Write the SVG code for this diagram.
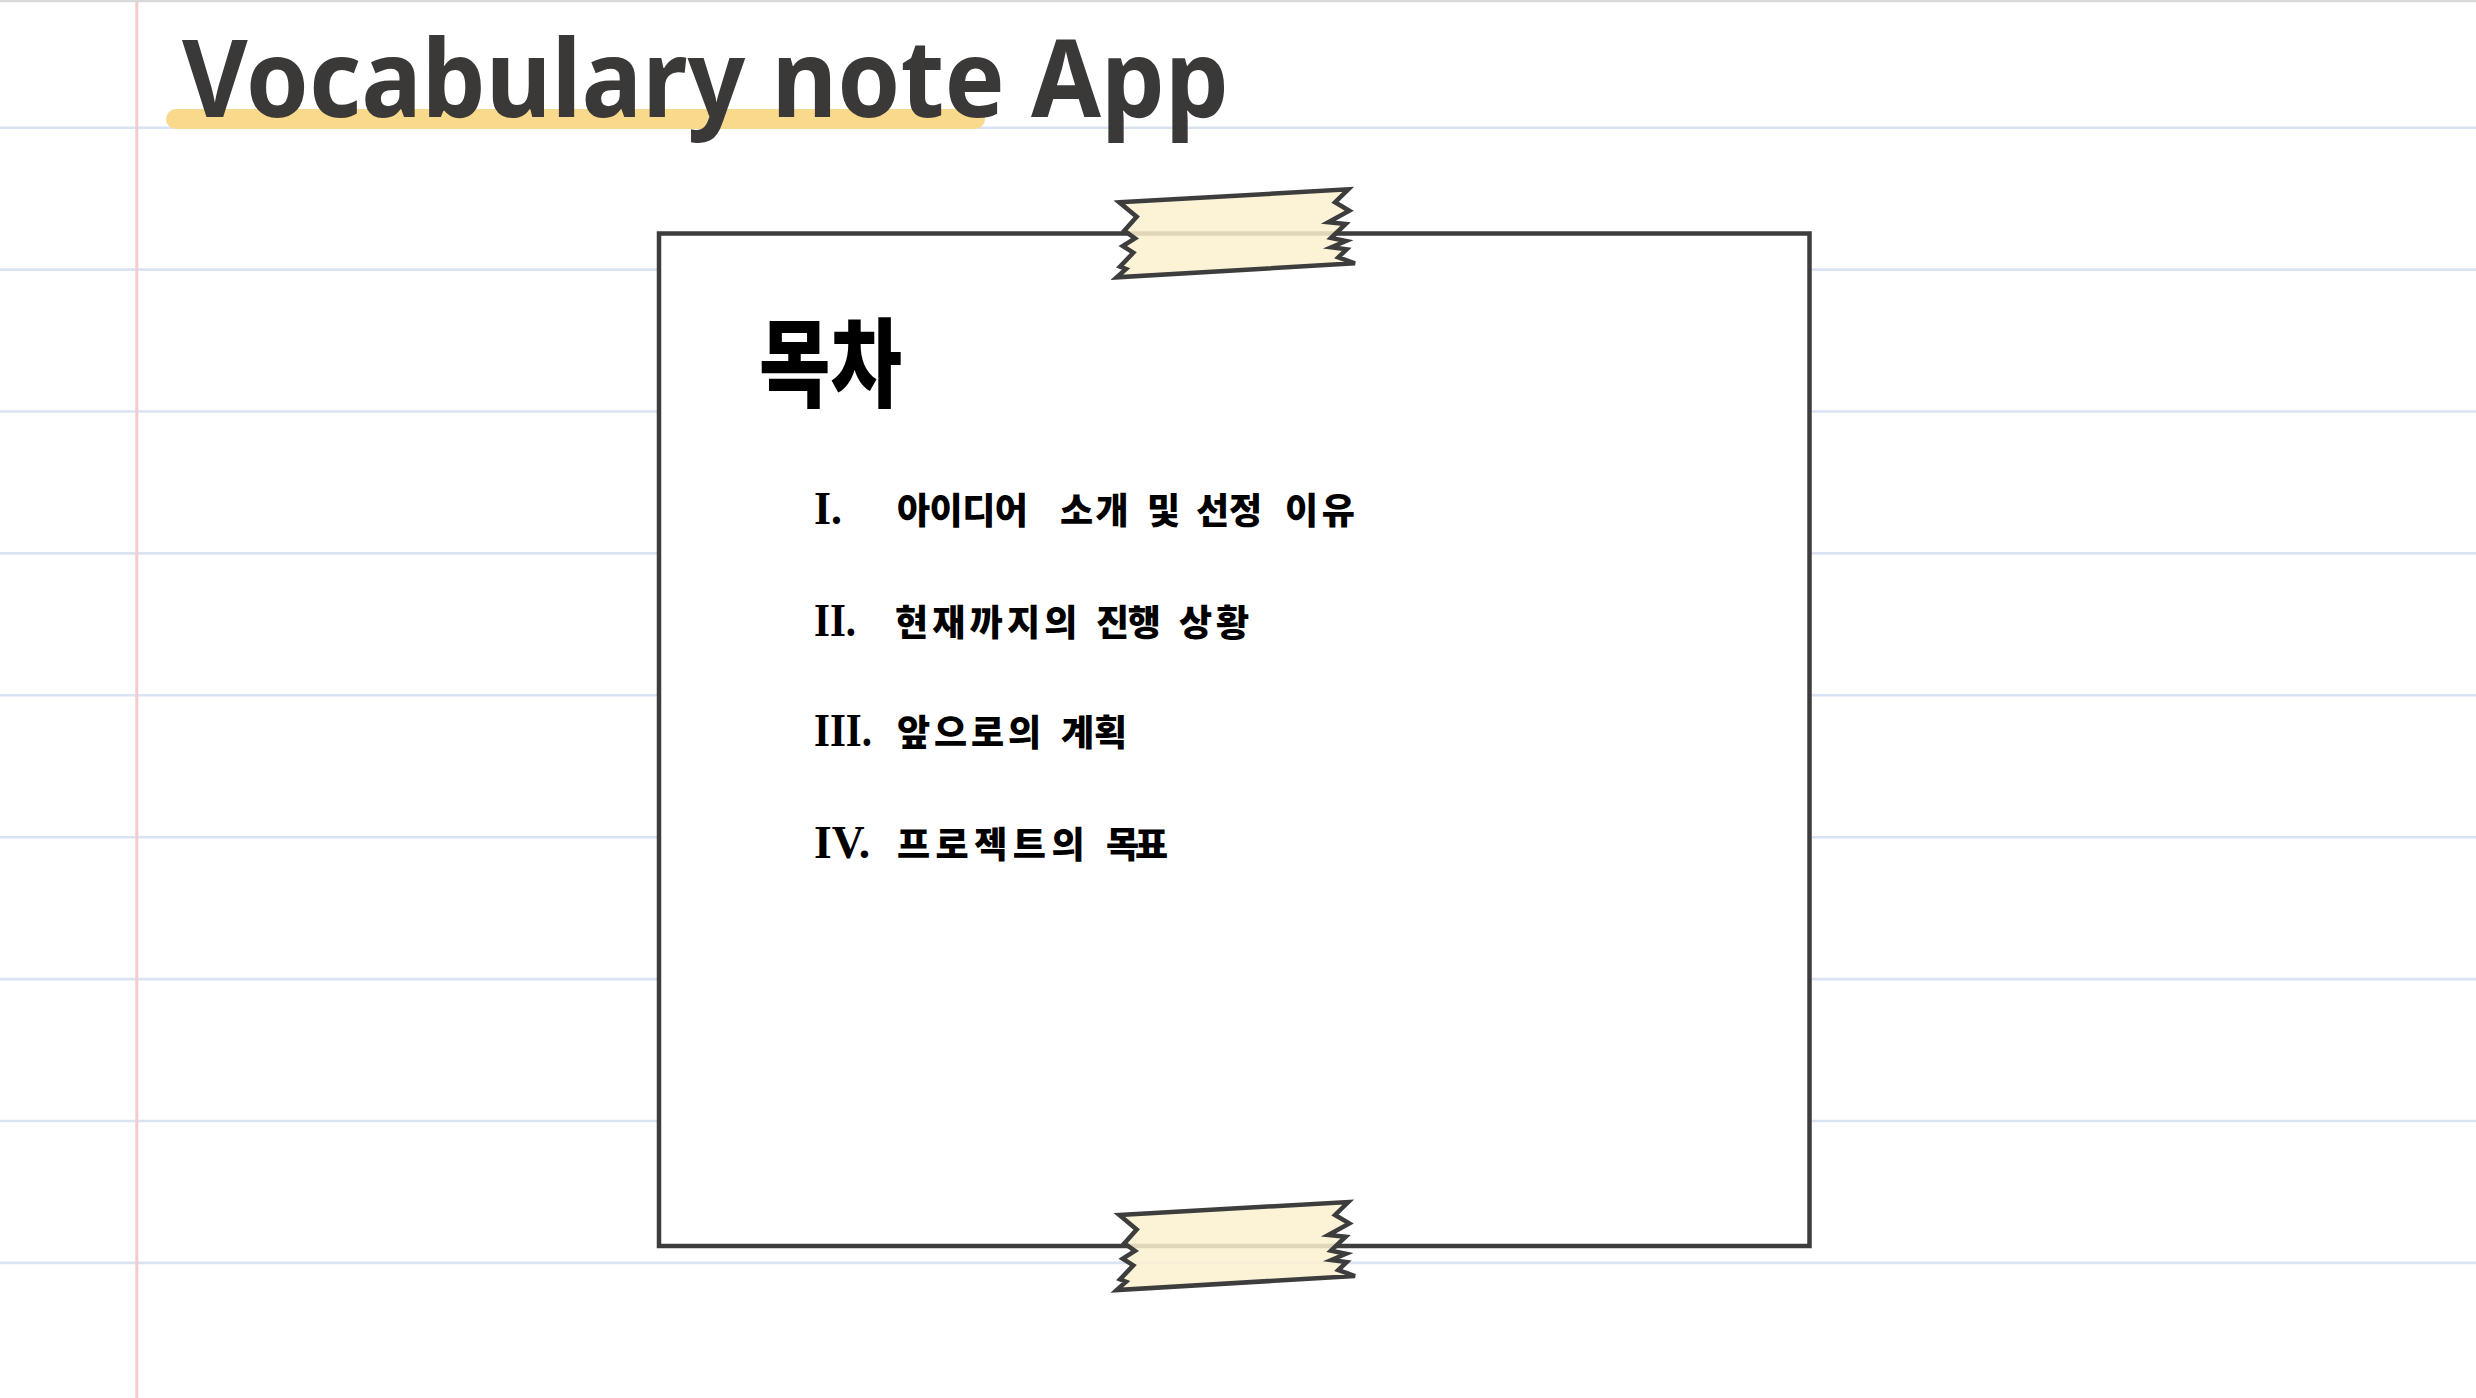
<svg xmlns="http://www.w3.org/2000/svg" xmlns:xlink="http://www.w3.org/1999/xlink" width="2476" height="1398" viewBox="0 0 2476 1398">
  <style>
    .rule { stroke: #DAE3F3; stroke-width: 2.6; }
    .title { font-family: "Noto Sans", "Open Sans", "Liberation Sans", sans-serif; font-weight: 700; font-size: 107px; fill: #3B3838; }
    .card { fill: #FFFFFF; stroke: #3D3D3D; stroke-width: 4.5; }
    .tape { fill: #FBF1CF; fill-opacity: 0.85; stroke: #3D3D3D; stroke-width: 4.5; stroke-linejoin: miter; }
    .head { font-family: "Noto Sans CJK KR", "Noto Sans CJK SC", sans-serif; font-weight: 900; font-size: 97px; fill: #000000; }
    .num { font-family: "Liberation Serif", "DejaVu Serif", serif; font-weight: 700; font-size: 47px; fill: #000000; }
    .item { font-family: "Noto Sans CJK KR", "Noto Sans CJK SC", sans-serif; font-weight: 900; font-size: 36px; fill: #000000; }
  </style>
  <defs>
    <path id="tapeShape" d="M1119.3,202.3 L1348.3,189.3 L1335,202.3 L1349.3,210.7 L1328.3,222.3 L1345.7,224 L1331,238 L1346,241 L1331.3,247.3 L1346.7,249.3 L1338.3,257.3 L1355,263.3 L1116.7,277.3 L1126,269 L1120,266.7 L1133.3,252.7 L1122.7,246 L1135,238.3 L1124.3,230.7 L1136.7,216.7 Z"/>
  </defs>

  <g id="background">
    <rect x="0" y="0" width="2476" height="1398" fill="#FFFFFF"/>
    <line x1="0" y1="1" x2="2476" y2="1" stroke="#D9D9D9" stroke-width="2.5"/>
    <line class="rule" x1="0" y1="127.7" x2="2476" y2="127.7"/>
    <line class="rule" x1="0" y1="269.6" x2="2476" y2="269.6"/>
    <line class="rule" x1="0" y1="411.5" x2="2476" y2="411.5"/>
    <line class="rule" x1="0" y1="553.4" x2="2476" y2="553.4"/>
    <line class="rule" x1="0" y1="695.3" x2="2476" y2="695.3"/>
    <line class="rule" x1="0" y1="837.2" x2="2476" y2="837.2"/>
    <line class="rule" x1="0" y1="979.1" x2="2476" y2="979.1"/>
    <line class="rule" x1="0" y1="1121" x2="2476" y2="1121"/>
    <line class="rule" x1="0" y1="1262.9" x2="2476" y2="1262.9"/>
    <line x1="136.8" y1="2" x2="136.8" y2="1398" stroke="#F4CCCC" stroke-width="3"/>
  </g>

  <g id="title">
    <rect x="166" y="109" width="819" height="20" rx="10" fill="#F9D98B"/>
    <text class="title" x="182" y="117" textLength="1047" lengthAdjust="spacingAndGlyphs">Vocabulary note App</text>
  </g>

  <g id="card">
    <rect class="card" x="659" y="233.5" width="1150.5" height="1012.5"/>
  </g>

  <g id="tape-top">
    <use xlink:href="#tapeShape" href="#tapeShape" class="tape"/>
  </g>
  <g id="tape-bottom">
    <use xlink:href="#tapeShape" href="#tapeShape" class="tape" transform="translate(0,1012.7)"/>
  </g>

  <g id="heading">
    <text class="head" transform="translate(759,399) scale(0.8,1)" x="0" y="0">목차</text>
  </g>

  <g id="toc">
    <g id="item-1">
      <text class="num" x="814" y="524" textLength="28" lengthAdjust="spacingAndGlyphs">I.</text>
      <text class="item" y="524"><tspan x="897" letter-spacing="-0.5">아이디어 </tspan><tspan x="1060" letter-spacing="2.3">소개 </tspan><tspan x="1147">및 </tspan><tspan x="1196">선정 </tspan><tspan x="1285" letter-spacing="3.6">이유</tspan></text>
    </g>
    <g id="item-2">
      <text class="num" x="814" y="636" textLength="42" lengthAdjust="spacingAndGlyphs">II.</text>
      <text class="item" y="636"><tspan x="895" letter-spacing="4.2">현재까지의 </tspan><tspan x="1096" letter-spacing="-1.4">진행 </tspan><tspan x="1179" letter-spacing="4">상황</tspan></text>
    </g>
    <g id="item-3">
      <text class="num" x="814" y="746" textLength="58" lengthAdjust="spacingAndGlyphs">III.</text>
      <text class="item" y="746"><tspan x="897" letter-spacing="3.9">앞으로의 </tspan><tspan x="1061">계획</tspan></text>
    </g>
    <g id="item-4">
      <text class="num" x="814" y="858" textLength="56" lengthAdjust="spacingAndGlyphs">IV.</text>
      <text class="item" y="858"><tspan x="897" letter-spacing="5.5">프로젝트의 </tspan><tspan x="1106" letter-spacing="-4">목표</tspan></text>
    </g>
  </g>
</svg>
